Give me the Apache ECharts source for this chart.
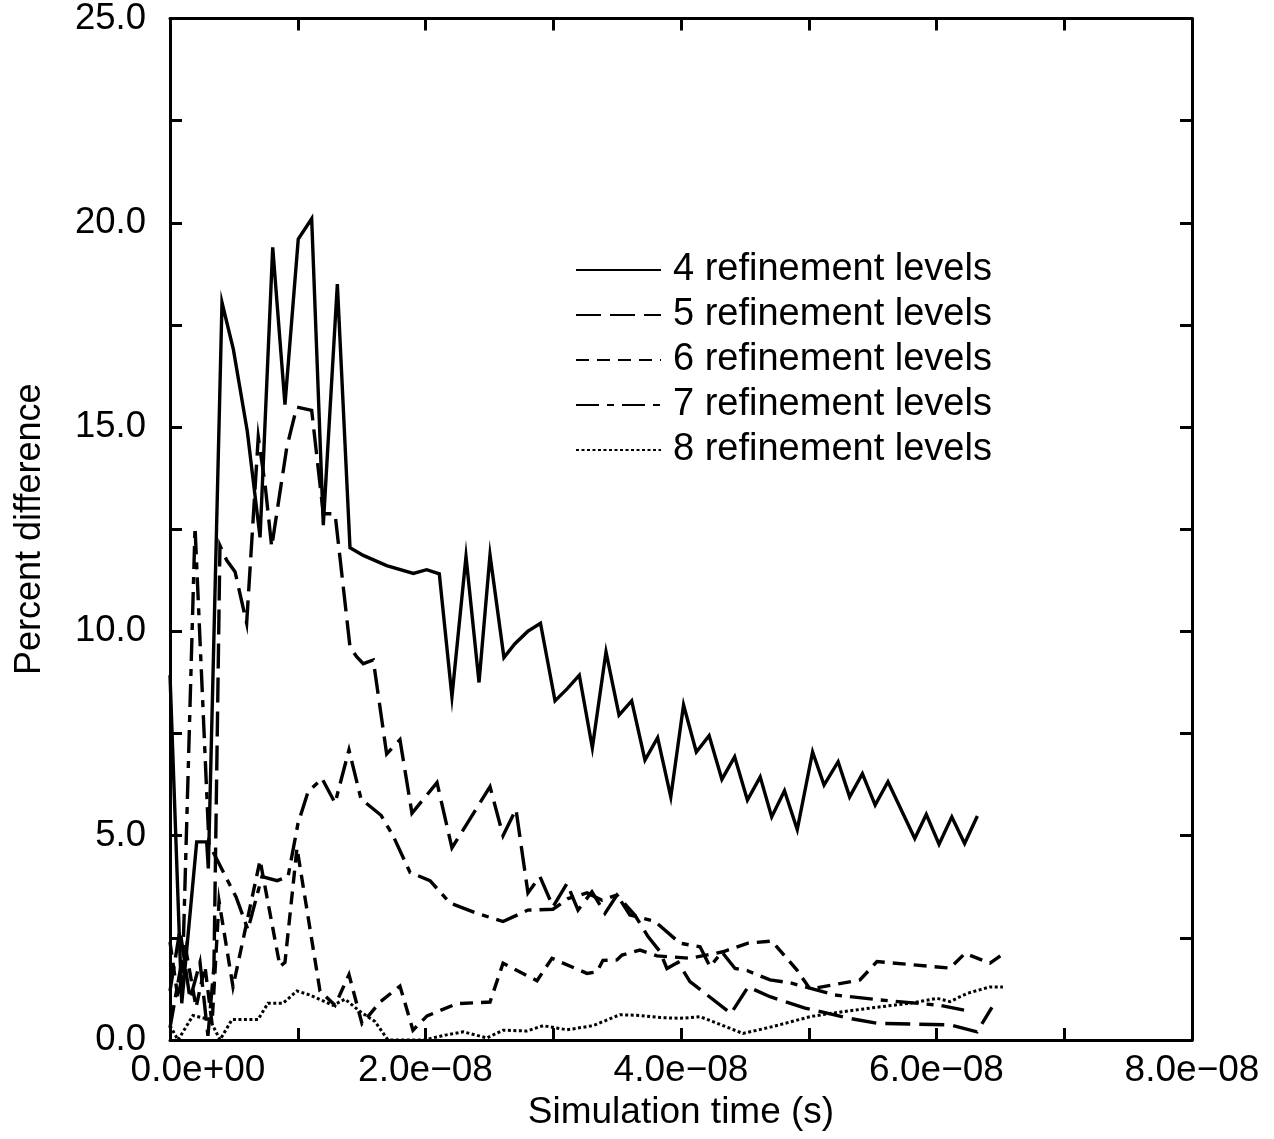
<!DOCTYPE html>
<html>
<head>
<meta charset="utf-8">
<title>Percent difference vs simulation time</title>
<script src="https://cdn.jsdelivr.net/npm/echarts@6/dist/echarts.min.js"></script>
<style>
  html, body { margin: 0; padding: 0; background: #ffffff; }
  #chart { width: 1274px; height: 1139px; }
</style>
</head>
<body>
<div id="chart"></div>
<script>
// Simulation time of each sample, in nanoseconds, and percent difference per refinement level
const T4 = [0, 0.92, 2.09, 2.87, 3.0, 4.07, 4.96, 6.05, 7.05, 8.04, 9.0, 10.04, 11.09, 12.0, 13.1, 14.09, 15.13, 16.96, 19.05, 20.09, 21.08, 22.07, 23.17, 24.19, 25.05, 26.14, 27.0, 28.0, 29.0, 30.14, 31.1, 32.04, 33.06, 34.13, 35.15, 36.14, 37.18, 38.17, 39.2, 40.2, 41.2, 42.2, 43.2, 44.2, 45.2, 46.2, 47.1, 48.1, 49.1, 50.3, 51.2, 52.3, 53.2, 54.2, 55.2, 56.2, 58.3, 59.2, 60.2, 61.2, 62.2, 63.2];
const V4 = [8.93, 0.9, 4.85, 4.85, 4.2, 18.05, 16.9, 14.9, 12.3, 19.4, 15.55, 19.6, 20.1, 12.6, 18.5, 12.05, 11.86, 11.61, 11.42, 11.51, 11.41, 8.4, 11.83, 8.75, 11.87, 9.36, 9.7, 10.0, 10.2, 8.3, 8.6, 8.93, 7.15, 9.5, 7.95, 8.3, 6.85, 7.4, 5.95, 8.2, 7.05, 7.45, 6.38, 6.93, 5.87, 6.44, 5.46, 6.1, 5.15, 7.05, 6.24, 6.81, 5.95, 6.52, 5.75, 6.32, 4.93, 5.52, 4.79, 5.46, 4.81, 5.48];

const T5 = [0, 0.78, 1.57, 2.35, 2.97, 3.44, 3.91, 4.44, 5.09, 6.0, 6.91, 7.44, 7.96, 9.14, 9.92, 11.09, 12.0, 12.92, 14.09, 14.61, 15.13, 15.91, 16.96, 18.0, 18.94, 20.9, 22.07, 25.05, 26.07, 27.08, 28.02, 28.96, 29.98, 31.08, 31.94, 33.03, 34.05, 34.99, 36.4, 37.42, 38.36, 38.9, 39.77, 40.7, 43.91, 45.25, 46.97, 49.71, 53.2, 55.34, 61.06, 63.17, 64.34];
const V5 = [1.2, 2.7, 1.0, 1.9, 0.1, 1.8, 12.1, 11.74, 11.46, 10.2, 14.76, 13.6, 12.07, 14.5, 15.49, 15.41, 12.88, 12.88, 9.62, 9.38, 9.21, 9.3, 7.0, 7.35, 5.55, 6.3, 4.7, 6.2, 5.0, 5.65, 3.6, 4.0, 3.26, 3.83, 3.18, 3.63, 3.1, 3.55, 3.05, 2.53, 2.16, 1.75, 1.9, 1.43, 0.65, 1.3, 1.06, 0.78, 0.53, 0.41, 0.37, 0.2, 0.8];

const T6 = [0, 0.63, 1.25, 2.04, 2.74, 3.29, 3.84, 4.93, 7.05, 8.61, 9.0, 9.94, 11.74, 12.92, 14.01, 15.03, 16.44, 18.0, 19.02, 20.12, 22.47, 25.05, 26.07, 28.73, 29.9, 32.64, 33.42, 33.89, 34.99, 35.38, 36.79, 38.12, 40.7, 43.29, 45.25, 47.12, 49.08, 50.1, 51.04, 54.01, 55.34, 61.06, 62.23, 64.19, 65.2];
const V6 = [2.4, 1.0, 2.2, 0.8, 1.8, 0.4, 3.4, 1.3, 4.4, 1.8, 1.9, 4.7, 1.2, 0.85, 1.6, 0.4, 0.93, 1.32, 0.24, 0.59, 0.89, 0.93, 1.88, 1.45, 2.0, 1.63, 1.67, 1.95, 1.96, 2.08, 2.2, 2.06, 2.0, 2.16, 2.37, 2.42, 1.71, 1.25, 1.3, 1.47, 1.92, 1.76, 2.12, 1.88, 2.1];

const T7 = [0, 1.02, 1.96, 3.05, 5.17, 6.1, 7.2, 8.38, 9.24, 10.02, 10.8, 11.9, 12.92, 14.01, 14.95, 16.52, 17.46, 18.79, 20.35, 21.92, 24.03, 26.07, 28.02, 29.98, 31.15, 32.64, 33.82, 34.99, 36.0, 37.96, 39.92, 41.49, 42.27, 43.21, 44.23, 45.17, 46.97, 48.53, 52.05, 55.58, 60.27, 62.62];
const V7 = [0.3, 2.1, 12.55, 4.8, 3.5, 2.7, 4.0, 3.9, 4.0, 5.3, 6.07, 6.4, 5.8, 7.1, 5.9, 5.5, 5.0, 4.1, 3.9, 3.35, 3.1, 2.9, 3.18, 3.2, 3.46, 3.6, 3.42, 3.55, 3.06, 2.9, 2.37, 2.28, 1.8, 2.15, 1.75, 1.7, 1.47, 1.4, 1.1, 0.98, 0.85, 0.7];

const T8 = [0, 0.63, 1.8, 3.13, 3.91, 4.85, 6.89, 7.67, 8.85, 9.94, 10.96, 12.76, 13.7, 14.87, 16.05, 17.06, 19.88, 21.53, 22.94, 24.81, 26.07, 27.95, 29.2, 31.08, 33.11, 35.23, 36.79, 38.36, 39.92, 41.49, 42.82, 44.85, 47.2, 50.1, 51.66, 54.79, 57.93, 60.04, 61.06, 62.39, 64.19, 65.2];
const V8 = [0.35, 0.0, 0.6, 0.5, 0.0, 0.5, 0.5, 0.9, 0.9, 1.2, 1.1, 0.85, 1.0, 0.7, 0.45, 0.0, 0.0, 0.12, 0.2, 0.05, 0.24, 0.22, 0.35, 0.25, 0.35, 0.62, 0.6, 0.55, 0.53, 0.57, 0.41, 0.16, 0.33, 0.57, 0.65, 0.78, 0.9, 1.02, 0.94, 1.14, 1.3, 1.3];

const SERIES_NAMES = ['4 refinement levels', '5 refinement levels', '6 refinement levels', '7 refinement levels', '8 refinement levels'];

// Axis ranges: x in nanoseconds, y in percent
const X_MIN = 0, X_MAX = 80, X_STEP = 10, X_LABEL_STEP = 20;
const Y_MIN = 0, Y_MAX = 25, Y_STEP = 2.5, Y_LABEL_STEP = 5;

const FONT = '"Liberation Sans", Arial, Helvetica, sans-serif';
const INK = '#000000';

function pairs(t, v) { return t.map((x, i) => [x, v[i]]); }

// "2.0e−08" style label from a time in nanoseconds
function sciLabel(ns) {
  const s = (ns * 1e-9).toExponential(1);
  const parts = s.split('e');
  const exp = parseInt(parts[1], 10);
  const sign = exp < 0 ? '\u2212' : '+';
  return parts[0] + 'e' + sign + String(Math.abs(exp)).padStart(2, '0');
}

const tickStyle = { show: true, inside: true, length: 12, lineStyle: { color: INK, width: 3 } };
const lineAxis = { show: true, onZero: false, lineStyle: { color: INK, width: 3 } };

const chart = echarts.init(document.getElementById('chart'), null, { renderer: 'canvas' });

function lineSeries(name, data, type, width) {
  return {
    name: name,
    type: 'line',
    data: data,
    showSymbol: false,
    symbol: 'none',
    animation: false,
    lineStyle: { color: INK, width: width, type: type, cap: 'butt', join: 'miter' },
    itemStyle: { color: INK }
  };
}

const option = {
  backgroundColor: '#ffffff',
  animation: false,
  grid: { left: 170, right: 82, top: 18, bottom: 99, containLabel: false },
  legend: {
    left: 570,
    top: 246,
    orient: 'vertical',
    itemWidth: 85,
    itemHeight: 20,
    itemGap: 7,
    data: SERIES_NAMES,
    itemStyle: { opacity: 0, borderWidth: 0 },
    textStyle: { color: INK, fontFamily: FONT, fontSize: 38, lineHeight: 37.5, padding: [0, 0, 0, 7] }
  },
  xAxis: [
    {
      type: 'value', position: 'bottom', min: X_MIN, max: X_MAX, interval: X_STEP,
      axisLine: lineAxis, axisTick: tickStyle, splitLine: { show: false },
      name: 'Simulation time (s)', nameLocation: 'middle', nameGap: 44,
      nameTextStyle: { color: INK, fontFamily: FONT, fontSize: 37 },
      axisLabel: {
        color: INK, fontFamily: FONT, fontSize: 37, margin: 12,
        formatter: function (v) {
          if (v % X_LABEL_STEP !== 0) return '';
          return v === X_MIN ? '{first|' + sciLabel(v) + '}' : sciLabel(v);
        },
        rich: { first: { fontFamily: FONT, fontSize: 37, color: INK, padding: [0, 0, 0, 56] } }
      }
    },
    {
      type: 'value', position: 'top', min: X_MIN, max: X_MAX, interval: X_STEP,
      axisLine: lineAxis, axisTick: tickStyle, axisLabel: { show: false }, splitLine: { show: false }
    }
  ],
  yAxis: [
    {
      type: 'value', position: 'left', min: Y_MIN, max: Y_MAX, interval: Y_STEP,
      axisLine: lineAxis, axisTick: tickStyle, splitLine: { show: false },
      name: 'Percent difference', nameLocation: 'middle', nameGap: 122,
      nameTextStyle: { color: INK, fontFamily: FONT, fontSize: 36 },
      axisLabel: {
        color: INK, fontFamily: FONT, fontSize: 36.5, margin: 24,
        formatter: function (v) { return v % Y_LABEL_STEP === 0 ? v.toFixed(1) : ''; }
      }
    },
    {
      type: 'value', position: 'right', min: Y_MIN, max: Y_MAX, interval: Y_STEP,
      axisLine: lineAxis, axisTick: tickStyle, axisLabel: { show: false }, splitLine: { show: false }
    }
  ],
  series: [
    lineSeries(SERIES_NAMES[0], pairs(T4, V4), 'solid', 3.4),
    lineSeries(SERIES_NAMES[1], pairs(T5, V5), [25, 9], 3.4),
    lineSeries(SERIES_NAMES[2], pairs(T6, V6), [13, 8], 3.4),
    lineSeries(SERIES_NAMES[3], pairs(T7, V7), [23, 8, 7, 8], 3.4),
    lineSeries(SERIES_NAMES[4], pairs(T8, V8), [3, 2.5], 3)
  ]
};

chart.setOption(option);
</script>
</body>
</html>
